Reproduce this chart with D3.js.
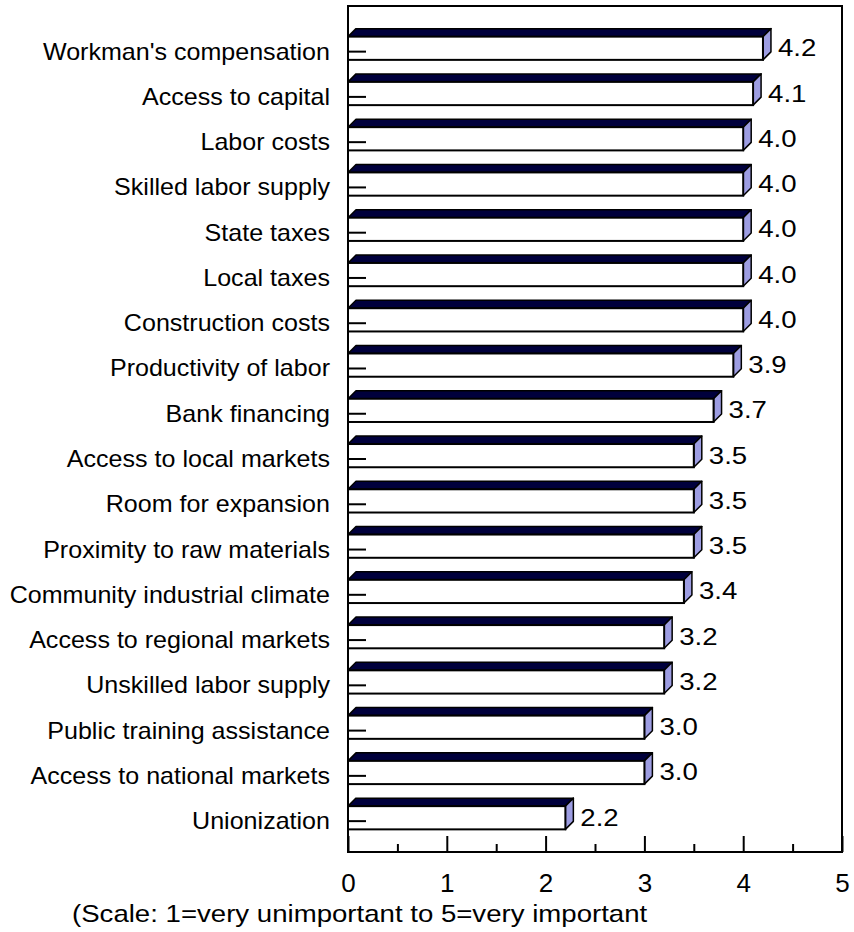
<!DOCTYPE html>
<html>
<meta charset="utf-8">
  <head>
    <script src="https://d3js.org/d3.v7.min.js"></script>
    <style>
      body { margin: 0; background: #fff; }
      text { font-family: "Liberation Sans", Arial, sans-serif; fill: #000; }
    </style>
  </head>
  <body>
    <div id="my_dataviz"></div>
    <script>

    // data
    var factors = ["Workman's compensation", "Access to capital", "Labor costs",
      "Skilled labor supply", "State taxes", "Local taxes", "Construction costs",
      "Productivity of labor", "Bank financing", "Access to local markets",
      "Room for expansion", "Proximity to raw materials", "Community industrial climate",
      "Access to regional markets", "Unskilled labor supply", "Public training assistance",
      "Access to national markets", "Unionization"];
    var scores = [4.2, 4.1, 4.0, 4.0, 4.0, 4.0, 4.0, 3.9, 3.7, 3.5, 3.5, 3.5, 3.4, 3.2, 3.2, 3.0, 3.0, 2.2];
    var majorTicks = [0, 1, 2, 3, 4, 5];
    var minorTicks = [0.5, 1.5, 2.5, 3.5, 4.5];
    var caption = "(Scale: 1=very unimportant to 5=very important";

    var data = factors.map(function(f, i) { return {name: f, value: scores[i]}; });

    var W = 854, H = 932;
    var margin = {top: 6, right: 12, bottom: 80, left: 348};
    var width = W - margin.left - margin.right,
        height = H - margin.top - margin.bottom;
    var depth = 8;      // 3d offset of the bars

    var svg = d3.select("#my_dataviz")
      .append("svg")
        .attr("width", W)
        .attr("height", H)
      .append("g")
        .attr("transform", "translate(" + margin.left + "," + margin.top + ")");

    var x = d3.scaleLinear().domain([0, 5]).range([0, width]);
    var y = d3.scaleBand()
        .domain(factors)
        .range([0, height])
        .paddingInner(0.31)
        .paddingOuter(0.5);

    var bh = y.bandwidth() - depth; // front face height

    var bar = svg.selectAll(".bar")
      .data(data)
      .enter()
      .append("g")
        .attr("class", "bar")
        .attr("transform", function(d) { return "translate(0," + (y(d.name) + depth) + ")"; });

    // top face
    bar.append("polygon")
        .attr("points", function(d) {
          var w = x(d.value);
          return [[0, 0], [w, 0], [w + depth, -depth], [depth, -depth]].join(" ");
        })
        .attr("fill", "#00003c")
        .attr("stroke", "#000")
        .attr("stroke-width", 1.5)
        .attr("stroke-linejoin", "round");

    // side face
    bar.append("polygon")
        .attr("points", function(d) {
          var w = x(d.value);
          return [[w, 0], [w + depth, -depth], [w + depth, bh - depth], [w, bh]].join(" ");
        })
        .attr("fill", "#9d9de2")
        .attr("stroke", "#000")
        .attr("stroke-width", 1.5)
        .attr("stroke-linejoin", "round");

    // front face
    bar.append("rect")
        .attr("x", 0)
        .attr("y", 0)
        .attr("width", function(d) { return x(d.value); })
        .attr("height", bh)
        .attr("fill", "#fff")
        .attr("stroke", "#000")
        .attr("stroke-width", 2);

    // little category tick
    bar.append("line")
        .attr("x1", 0)
        .attr("x2", 18)
        .attr("y1", 15)
        .attr("y2", 15)
        .attr("stroke", "#000")
        .attr("stroke-width", 2);

    // value labels
    bar.append("g")
        .attr("transform", function(d) { return "translate(" + (x(d.value) + depth + 7) + "," + (bh / 2 + 8) + ") scale(1.2,1)"; })
      .append("text")
        .text(function(d) { return d3.format(".1f")(d.value); })
        .style("font-size", "23px");

    // category labels
    bar.append("g")
        .attr("transform", "translate(-18,23) scale(1.09,1)")
      .append("text")
        .attr("text-anchor", "end")
        .text(function(d) { return d.name; })
        .style("font-size", "23px");

    // frame
    svg.append("rect")
        .attr("x", 0)
        .attr("y", 0)
        .attr("width", width)
        .attr("height", height)
        .attr("fill", "none")
        .attr("stroke", "#000")
        .attr("stroke-width", 2);

    // x axis: major and minor ticks point inward
    var xAxis = svg.append("g")
        .attr("transform", "translate(0," + height + ")")
        .call(d3.axisBottom(x).tickValues(majorTicks).tickFormat(d3.format("d"))
          .tickSizeInner(-16).tickSizeOuter(0).tickPadding(22));
    xAxis.select(".domain").remove();
    xAxis.selectAll("line").attr("stroke-width", 2);
    xAxis.selectAll("text")
        .style("font-size", "26px")
        .style("font-family", "'Liberation Sans', Arial, sans-serif")
        .attr("fill", "#000");

    var xMinor = svg.append("g")
        .attr("transform", "translate(0," + height + ")")
        .call(d3.axisBottom(x).tickValues(minorTicks).tickFormat("")
          .tickSizeInner(-8).tickSizeOuter(0));
    xMinor.select(".domain").remove();
    xMinor.selectAll("line").attr("stroke-width", 2);

    // scale note
    svg.append("g")
        .attr("transform", "translate(" + (72 - margin.left) + "," + (922 - margin.top) + ") scale(1.15,1)")
      .append("text")
        .text(caption)
        .style("font-size", "24px");

    </script>
  </body>
</html>
